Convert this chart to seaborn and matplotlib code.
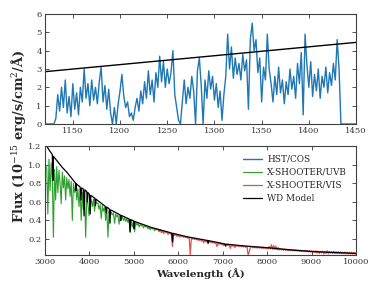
#Import Libraries
import numpy as np
import matplotlib
matplotlib.use("Agg")
import matplotlib.pyplot as plt
import seaborn as sns

#HST/COS spectrum (every 2 A from 1120 to 1450)
cos_wave = np.arange(1120, 1451, 2)
cos_flux = [
    0, 0, 0, 0, 0, 0, 0.3, 1.6, 0.7, 2.0,
    0.9, 2.4, 0.6, 1.5, 0.4, 2.2, 0.8, 1.7, 0.5, 2.0,
    1.2, 3.0, 1.4, 2.2, 1.0, 2.4, 1.3, 2.0, 1.1, 2.3,
    3.1, 1.2, 2.1, 0.8, 1.9, 0.6, 0.0, 0.9, 0.0, 1.1,
    1.8, 2.7, 1.5, 0.9, 1.2, 0.4, 0.6, 0.2, 0.9, 1.4,
    0.7, 1.8, 1.1, 2.3, 1.4, 2.9, 1.6, 2.4, 1.2, 2.8,
    2.0, 3.7, 2.3, 3.4, 2.0, 3.0, 2.2, 2.8, 4.0, 1.6,
    0.9, 0.2, 0.0, 1.2, 2.4, 1.1, 2.0, 1.4, 2.6, 1.8,
    0.0, 2.9, 3.6, 2.1, 0.0, 2.4, 1.4, 2.9, 1.9, 2.6,
    1.3, 2.2, 0.9, 1.8, 0.2, 1.6, 2.6, 4.9, 3.0, 4.2,
    2.5, 3.6, 2.7, 3.3, 2.4, 3.8, 2.9, 3.5, 0.8, 4.6,
    5.5, 4.0, 4.6, 2.8, 3.6, 1.2, 3.1, 2.4, 4.9, 3.0,
    2.2, 1.2, 2.6, 1.6, 3.1, 1.7, 2.4, 1.1, 2.3, 1.6,
    3.0, 1.9, 2.6, 1.4, 3.3, 2.2, 3.9, 0.5, 4.9, 3.2,
    2.0, 3.4, 1.5, 2.7, 1.8, 3.0, 1.4, 2.6, 2.0, 3.1,
    1.7, 2.8, 2.1, 3.3, 2.4, 4.6, 3.0, 0.0, 0.0, 0.0,
    0, 0, 0, 0, 0, 0,
]

#WD model in the COS range
cos_model_wave = [1120, 1450]
cos_model_flux = [2.85, 4.45]

#X-SHOOTER UVB arm (every 25 A)
uvb_wave = np.arange(3050, 5601, 25)
uvb_flux = [
    0.98, 0.47, 1.06, 0.72, 1.02, 0.85, 0.22, 0.95, 0.62, 0.98,
    0.70, 0.94, 0.80, 0.58, 0.92, 0.75, 0.88, 0.62, 0.86, 0.74,
    0.84, 0.66, 0.82, 0.40, 0.80, 0.70, 0.78, 0.62, 0.74, 0.55,
    0.73, 0.40, 0.70, 0.52, 0.68, 0.22, 0.66, 0.58, 0.45, 0.64,
    0.62, 0.55, 0.63, 0.50, 0.61, 0.58, 0.59, 0.52, 0.57, 0.42,
    0.56, 0.50, 0.54, 0.40, 0.52, 0.22, 0.50, 0.45, 0.49, 0.46,
    0.48, 0.37, 0.47, 0.44, 0.46, 0.36, 0.45, 0.42, 0.44, 0.40,
    0.43, 0.39, 0.42, 0.38, 0.41, 0.27, 0.40, 0.33, 0.39, 0.28,
    0.38, 0.35, 0.37, 0.33, 0.36, 0.34, 0.355, 0.32, 0.345, 0.33,
    0.34, 0.31, 0.33, 0.30, 0.325, 0.31, 0.315, 0.29, 0.31, 0.30,
    0.30, 0.29, 0.295,
]

#X-SHOOTER VIS arm (every 25 A)
vis_wave = np.arange(5550, 10001, 25)
vis_flux = [
    0.31, 0.28, 0.30, 0.27, 0.29, 0.26, 0.285, 0.27, 0.28, 0.25,
    0.27, 0.255, 0.26, 0.12, 0.255, 0.24, 0.25, 0.23, 0.245, 0.225,
    0.24, 0.225, 0.235, 0.22, 0.23, 0.215, 0.225, 0.21, 0.22, 0.03,
    0.215, 0.20, 0.21, 0.195, 0.205, 0.19, 0.20, 0.185, 0.195, 0.18,
    0.19, 0.16, 0.185, 0.17, 0.18, 0.15, 0.175, 0.165, 0.17, 0.16,
    0.165, 0.155, 0.16, 0.12, 0.158, 0.145, 0.155, 0.14, 0.15, 0.13,
    0.148, 0.12, 0.145, 0.13, 0.14, 0.10, 0.138, 0.125, 0.135, 0.11,
    0.133, 0.122, 0.13, 0.12, 0.128, 0.118, 0.126, 0.115, 0.124, 0.112,
    0.122, 0.03, 0.06, 0.115, 0.12, 0.108, 0.118, 0.106, 0.116, 0.104,
    0.114, 0.103, 0.113, 0.10, 0.111, 0.098, 0.109, 0.096, 0.107, 0.095,
    0.12, 0.094, 0.14, 0.09, 0.13, 0.088, 0.125, 0.085, 0.11, 0.084,
    0.097, 0.083, 0.095, 0.08, 0.094, 0.078, 0.092, 0.077, 0.09, 0.075,
    0.088, 0.074, 0.087, 0.072, 0.085, 0.071, 0.083, 0.069, 0.082, 0.068,
    0.079, 0.066, 0.08, 0.064, 0.078, 0.062, 0.076, 0.06, 0.074, 0.059,
    0.072, 0.056, 0.074, 0.05, 0.07, 0.045, 0.068, 0.052, 0.07, 0.04,
    0.066, 0.045, 0.075, 0.042, 0.068, 0.048, 0.065, 0.046, 0.07, 0.044,
    0.064, 0.045, 0.066, 0.044, 0.062, 0.043, 0.06, 0.042, 0.061, 0.041,
    0.059, 0.04, 0.058, 0.039, 0.057, 0.038, 0.056, 0.037,
    0.05,
]

#WD model in the optical
model_wave = [3000, 3100, 3175, 3187, 3200, 3300, 3400, 3500, 3600, 3700,
              3705, 3712, 3800, 3820, 3830, 3870, 3889, 3905, 3950, 3965,
              3975, 4010, 4026, 4040, 4130, 4144, 4155, 4370, 4388, 4400,
              4455, 4471, 4485, 4700, 4713, 4725, 4905, 4922, 4935, 5005,
              5016, 5025, 5400, 5860, 5876, 5890, 6200, 6665, 6678, 6690,
              7050, 7065, 7080, 7500, 8000, 8500, 9000, 9500, 10000]
model_flux = [1.24, 1.16, 1.11, 0.83, 1.09, 1.03, 0.97, 0.92, 0.86, 0.80,
              0.72, 0.795, 0.76, 0.62, 0.75, 0.74, 0.45, 0.73, 0.71, 0.60,
              0.70, 0.68, 0.47, 0.67, 0.64, 0.56, 0.63, 0.55, 0.48, 0.545,
              0.525, 0.37, 0.515, 0.46, 0.40, 0.455, 0.415, 0.28, 0.41, 0.395,
              0.31, 0.39, 0.325, 0.265, 0.17, 0.262, 0.225, 0.185, 0.16, 0.183,
              0.148, 0.13, 0.146, 0.126, 0.108, 0.085, 0.067, 0.056, 0.047]

#Style
sns.set_style("ticks")
plt.rcParams['font.family'] = ['DejaVu Serif']
plt.rcParams['mathtext.fontset'] = 'dejavuserif'
plt.rcParams['xtick.direction'] = 'in'
plt.rcParams['ytick.direction'] = 'in'
plt.rcParams['xtick.top'] = True
plt.rcParams['ytick.right'] = True

fig = plt.figure(figsize=(3.74, 2.91), dpi=100)
ax1 = fig.add_axes([0.119, 0.574, 0.833, 0.378])
ax2 = fig.add_axes([0.119, 0.124, 0.833, 0.374])

#Top panel: COS
sns.lineplot(x=cos_wave, y=cos_flux, ax=ax1, color='#1f77b4', lw=1.0,
             estimator=None, sort=False, label='HST/COS')
sns.lineplot(x=cos_model_wave, y=cos_model_flux, ax=ax1, color='black', lw=1.0,
             estimator=None, sort=False)
ax1.set_xlim(1120, 1450)
ax1.set_ylim(0, 6)
ax1.set_xticks(range(1150, 1451, 50))
ax1.set_yticks(range(0, 7))
if ax1.get_legend() is not None:
    ax1.get_legend().remove()

#Bottom panel: X-SHOOTER
sns.lineplot(x=uvb_wave, y=uvb_flux, ax=ax2, color='#2ca02c', lw=0.8,
             estimator=None, sort=False, label='X-SHOOTER/UVB')
sns.lineplot(x=vis_wave, y=vis_flux, ax=ax2, color='#d62728', lw=0.9, alpha=0.8,
             estimator=None, sort=False, label='X-SHOOTER/VIS')
sns.lineplot(x=model_wave, y=model_flux, ax=ax2, color='black', lw=0.9,
             estimator=None, sort=False, label='WD Model')
ax2.set_xlim(3000, 10000)
ax2.set_ylim(0.03, 1.2)
ax2.set_xticks(range(3000, 10001, 1000))
ax2.set_yticks([0.2, 0.4, 0.6, 0.8, 1.0, 1.2])

h1, l1 = ax1.get_legend_handles_labels()
h2, l2 = ax2.get_legend_handles_labels()
ax2.legend(h1 + h2, l1 + l2, loc='upper right', frameon=False, fontsize=6.4,
           handlelength=2.2, handletextpad=0.6, borderaxespad=0.6,
           labelspacing=0.45)

for ax in [ax1, ax2]:
    ax.tick_params(labelsize=6, length=3, width=0.6, pad=2, colors='0.2')
    for s in ax.spines.values():
        s.set_linewidth(0.8)
        s.set_color('0.25')
    ax.set_xlabel('')
    ax.set_ylabel('')

ax2.set_xlabel('Wavelength (Å)', fontsize=7.5, fontweight='bold', labelpad=2)
fig.text(0.05, 0.531, r'Flux (10$^{-15}$ erg/s/cm$^2$/Å)', rotation=90,
         ha='center', va='center', fontsize=9.3, fontweight='bold')

plt.savefig('out.png', dpi=100)
